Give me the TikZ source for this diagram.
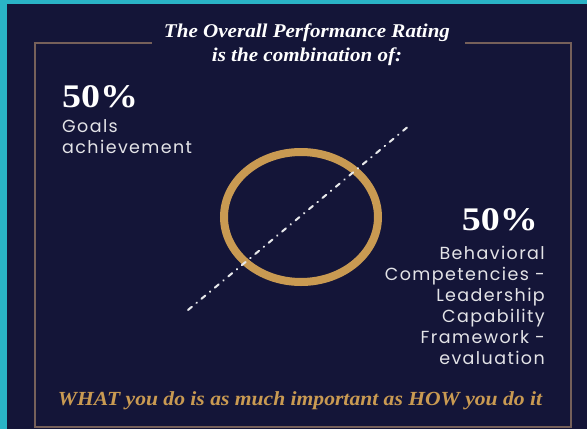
\documentclass[tikz,border=0pt]{standalone}
\usepackage{fontspec}
\setmainfont{Liberation Serif}
\newfontfamily\policetitre[FakeStretch=1.08]{Liberation Serif}
\newfontfamily\policechiffre[FakeStretch=1.15]{Liberation Serif}
\newfontfamily\policesans[LetterSpace=8]{Poppins}
\usetikzlibrary{positioning}
\definecolor{marine}{HTML}{141538}
\definecolor{turquoise}{HTML}{2AB3C6}
\definecolor{dore}{HTML}{C99A52}
\definecolor{brun}{HTML}{76605A}

\begin{document}
\begin{tikzpicture}[x=1pt, y=-1pt]
	\tikzset{titre/.style={text=white, font=\policetitre\fontsize{19.5}{24}\selectfont\itshape\bfseries, align=center, inner sep=0pt},
	pourcent/.style={text=white, font=\policechiffre\fontsize{33}{33}\selectfont\bfseries, inner sep=0pt},
	texte/.style={text=white!88!marine, font=\policesans\fontsize{17.5}{21}\selectfont, inner sep=0pt},
	devise/.style={text=dore, font=\policetitre\fontsize{20}{24}\selectfont\itshape\bfseries, inner sep=0pt},
	cadre/.style={draw=brun, line width=1.5pt},
	anneau/.style={draw=dore, line width=8pt},
	pointille/.style={draw=white!90!marine, line width=2pt, line cap=round, dash pattern=on 5pt off 6pt on 0.5pt off 6pt}};

	% fond
	\fill[turquoise] (0,0) rectangle (587,429);
	\fill[marine] (7,4) rectangle (587,429);
	\useasboundingbox (0,0) rectangle (587,429);

	% cadre ouvert sous le titre
	\draw[cadre] (152,43) -- (35,43) -- (35,427) -- (571,427) -- (571,43) -- (465,43);

	\node[titre] (titre) at (307,45) {The Overall Performance Rating\\is the combination of:};

	% gauche
	\node[pourcent, anchor=north west] (p-buts) at (62,85) {50\%};
	\node[texte, align=left, anchor=north west] (buts) at (62,119) {Goals\\achievement};

	% anneau et diagonale
	\coordinate (centre) at (301,217);
	\draw[anneau] (centre) ellipse [x radius=77, y radius=65];
	\coordinate (d-bas) at (188,310);
	\coordinate (d-haut) at (410,125);
	\draw[pointille] (d-bas) -- (d-haut);

	% droite
	\node[pourcent, anchor=north east] (p-comp) at (538,208) {50\%};
	\node[texte, align=right, anchor=north east] (comp) at (545,246) {Behavioral\\Competencies -\\Leadership\\Capability\\Framework -\\evaluation};

	\node[devise] (devise) at (300,401) {WHAT you do is as much important as HOW you do it};

\end{tikzpicture}
\end{document}
